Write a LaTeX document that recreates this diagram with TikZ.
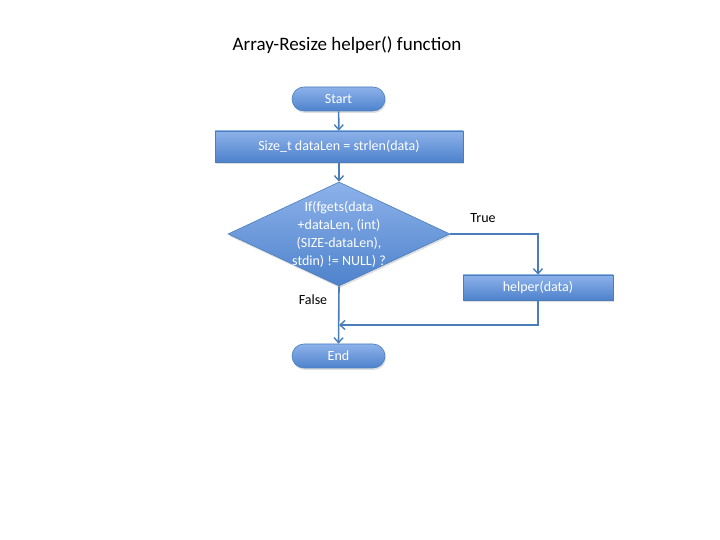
\documentclass[tikz,border=0pt]{standalone}
\usepackage{fontspec}
\setmainfont{Carlito}
\usetikzlibrary{shapes.geometric,shapes.misc,arrows.meta,shadows}
\definecolor{fillTop}{HTML}{8DB2EA}
\definecolor{fillBot}{HTML}{4E82CC}
\definecolor{edge}{HTML}{4A7EBB}
\begin{document}
\begin{tikzpicture}[x=1pt,y=1pt,
  shade box/.style={top color=fillTop,bottom color=fillBot,draw=edge,line width=0.6pt,
    drop shadow={opacity=0.25,shadow xshift=1pt,shadow yshift=-2pt},
    text=white,font=\fontsize{14}{16}\selectfont,inner sep=0pt},
  term/.style={shade box,rounded rectangle,minimum width=93pt,minimum height=24pt},
  proc/.style={shade box,rectangle,minimum width=#1,minimum height=31pt},
  dia/.style={shade box,diamond,minimum width=222pt,minimum height=104pt},
  lbl/.style={font=\fontsize{14}{16}\selectfont,text=black},
  conn/.style={draw=edge,line width=1.6pt,-{Straight Barb[length=5pt,width=9pt,line width=1.4pt]}}]
\useasboundingbox (0,0) rectangle (720,540);
\node[font=\fontsize{19}{22}\selectfont] (title) at (347,495) {Array-Resize helper() function};
\node[term] (start) at (338.5,441) {Start};
\node[proc=248pt] (size) at (339,393.5) {Size\_t dataLen = strlen(data)};
\node[dia] (cond) at (339,306) {};
\node[text=white,align=center,font=\fontsize{14}{18}\selectfont] (condtxt) at (cond) {If(fgets(data\\+dataLen, (int)\\(SIZE-dataLen),\\stdin) != NULL) ?};
\node[proc=150pt,minimum height=25pt] (helper) at (538,252.5) {helper(data)};
\node[term] (end) at (338.5,184) {End};
\node[lbl] (true) at (483,322) {True};
\node[lbl] (false) at (313,240) {False};
\coordinate (join) at (339,215);
\draw[conn] (start) -- (size);
\draw[conn] (size) -- (cond);
\draw[conn] (cond.east) -| (helper.north);
\draw[conn] (helper.south) |- (join);
\draw[conn] (cond.south) -- (end.north);
\end{tikzpicture}
\end{document}
